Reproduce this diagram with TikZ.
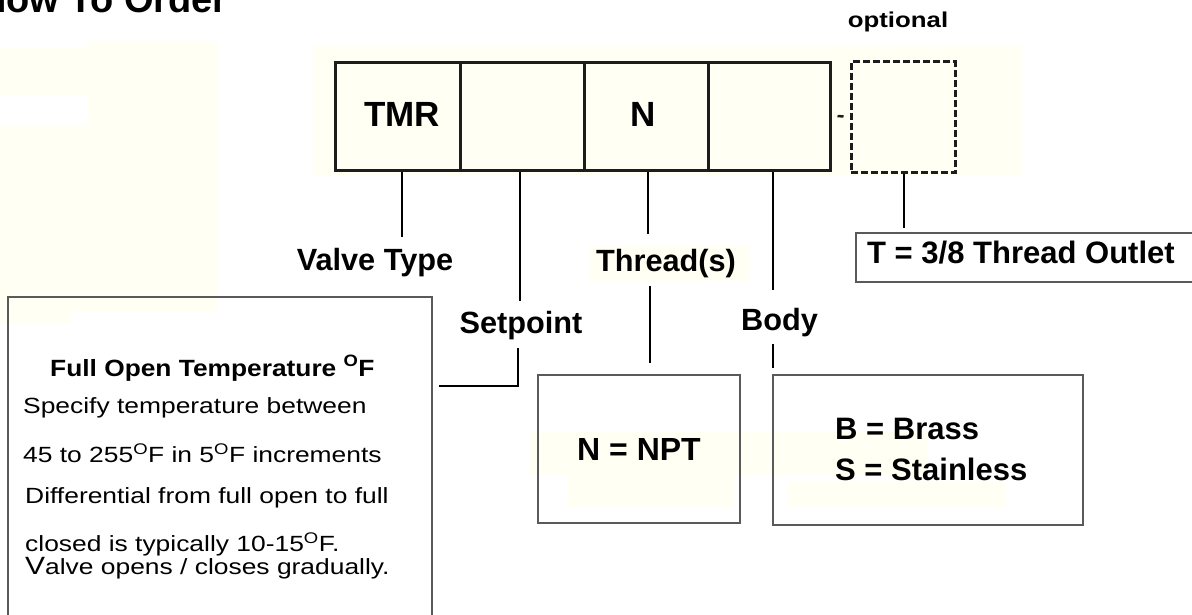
\documentclass[tikz,border=0pt]{standalone}
\usepackage{fontspec}
\setmainfont{Liberation Sans}
\newfontfamily\widefont[FakeStretch=1.2]{Liberation Sans}
\newfontfamily\widefontb[FakeStretch=1.12]{Liberation Sans}
\usetikzlibrary{calc}
\definecolor{cream}{RGB}{255,255,243}
\definecolor{ink}{RGB}{30,28,29}
\definecolor{frame}{RGB}{90,90,90}
\tikzset{
  cell/.style={draw=ink, line width=3pt, minimum height=108pt, inner sep=0pt},
  optcell/.style={draw=ink, line width=3pt, dash pattern=on 7pt off 3pt, inner sep=0pt},
  conn/.style={draw=black, line width=2pt},
  codetxt/.style={font=\fontsize{35}{40}\selectfont\bfseries, inner sep=0pt},
  lab/.style={font=\fontsize{30.7}{36}\selectfont\bfseries, inner sep=0pt, anchor=base},
  infobox/.style={draw=frame, line width=1.5pt, inner sep=0pt},
  bigtxt/.style={font=\fontsize{31}{36}\selectfont\bfseries, inner sep=0pt, anchor=base west},
  bodytxt/.style={font=\widefont\fontsize{22}{26}\selectfont, inner sep=0pt, anchor=base west},
  headtxt/.style={font=\widefontb\fontsize{23.5}{28}\selectfont\bfseries, inner sep=0pt, anchor=base west},
  bgpatch/.style={fill=cream, draw=none},
}
\begin{document}
\begin{tikzpicture}[x=1pt,y=-1pt]
\useasboundingbox (0,0) rectangle (1192,615);
\clip (0,0) rectangle (1192,615);
% faint background patches
\fill[bgpatch] (0,48) rectangle (87,95);
\fill[bgpatch] (87,41) rectangle (218,312);
\fill[bgpatch] (0,125) rectangle (197,312);
\fill[bgpatch] (0,312) rectangle (69,324);
\fill[bgpatch] (313,45) rectangle (1021,175);
\fill[bgpatch] (589,245) rectangle (750,281);
\fill[bgpatch] (530,432) rectangle (927,475);
\fill[bgpatch] (568,475) rectangle (733,507);
\fill[bgpatch] (788,482) rectangle (1005,507);
% title
\node[font=\fontsize{38}{44}\selectfont\bfseries, inner sep=0pt, anchor=base west] (title) at (-21,13) {How To Order};
\node[font=\widefont\fontsize{21.5}{26}\selectfont\bfseries, inner sep=0pt, anchor=base] (optlab) at (898,28) {optional};
% code cells
\node[cell, minimum width=125pt] (c1) at (397.5,117) {};
\node[cell, minimum width=124pt] (c2) at (522,117) {};
\node[cell, minimum width=124pt] (c3) at (646,117) {};
\node[cell, minimum width=122pt] (c4) at (769,117) {};
\node[optcell, minimum width=104pt, minimum height=111pt] (c5) at (903,117.5) {};
\node[codetxt] (tmr) at (402,114.5) {TMR};
\node[codetxt] (nn) at (643,114) {N};
\draw[line width=2.5pt, draw=ink] ($(c4.east)+(6,-1)$) -- ($(c5.west)+(-6,-1)$);
% labels
\node[lab] (vt) at (375,270) {Valve Type};
\node[lab] (sp) at (521,333) {Setpoint};
\node[lab] (th) at (666,271) {Thread(s)};
\node[lab] (bo) at (779.5,330) {Body};
% info boxes
\node[infobox, minimum width=424pt, minimum height=343pt] (big) at (220,468.5) {};
\node[infobox, minimum width=202pt, minimum height=148pt, font=\fontsize{32}{36}\selectfont\bfseries] (npt) at (639,449) {N = NPT};
\node[infobox, minimum width=310pt, minimum height=150pt] (body) at (928,450) {};
\node[infobox, minimum width=344pt, minimum height=49pt] (tout) at (1028,257.5) {};
% texts in boxes
\node[bigtxt] (brass) at (835,439) {B = Brass};
\node[bigtxt] (stain) at (835,480) {S = Stainless};
\node[bigtxt] (toutt) at (867,263) {T = 3/8 Thread Outlet};
\node[headtxt] (l1) at (50,376) {Full Open Temperature \textsuperscript{O}F};
\node[bodytxt] (l2) at (23,413) {Specify temperature between};
\node[bodytxt] (l3) at (23,462) {45 to 255\textsuperscript{O}F in 5\textsuperscript{O}F increments};
\node[bodytxt] (l4) at (25,503) {Differential from full open to full};
\node[bodytxt] (l5) at (25,551) {closed is typically 10-15\textsuperscript{O}F.};
\node[bodytxt] (l6) at (25,574) {{\fontsize{25}{28}\selectfont V}alve opens / closes gradually.};
% connectors
\coordinate (vtA) at (402,237);
\draw[conn] (vtA |- c1.south) -- (vtA);
\coordinate (spA) at (520,301);
\draw[conn] (spA |- c2.south) -- (spA);
\coordinate (spB) at (518,348);
\coordinate (spC) at ($(big.east)+(6,0)$);
\draw[conn] (spB) |- (spC |- 0,386);
\coordinate (thA) at (648,234);
\draw[conn] (thA |- c3.south) -- (thA);
\coordinate (thB) at (650,286);
\draw[conn] (thB) -- ($(thB |- npt.north)+(0,-11)$);
\coordinate (boA) at (773,290);
\draw[conn] (boA |- c4.south) -- (boA);
\coordinate (boB) at (773,344);
\draw[conn] (boB) -- ($(boB |- body.north)+(0,-6)$);
\coordinate (opA) at (904,228);
\draw[conn] (opA |- c5.south) -- (opA);
\end{tikzpicture}
\end{document}
